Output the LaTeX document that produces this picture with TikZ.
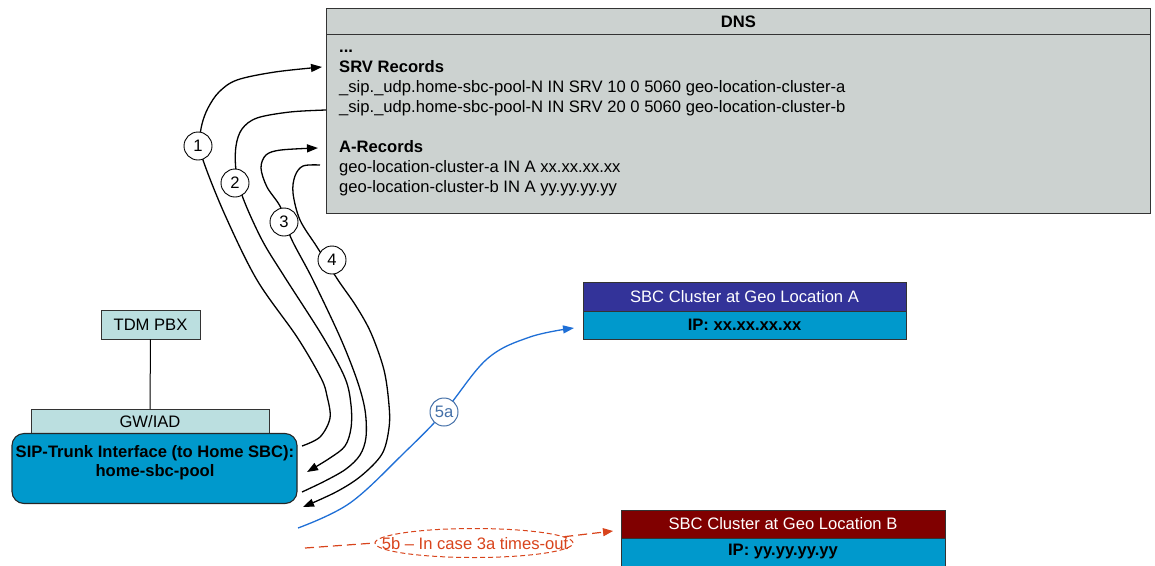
\documentclass[tikz,border=0pt]{standalone}
\usepackage{fontspec}
\setmainfont{Liberation Sans}
\usetikzlibrary{arrows.meta,shapes.geometric}

\definecolor{dnsgray}{HTML}{CCD2D0}
\definecolor{paleteal}{HTML}{BBDFE0}
\definecolor{sipblue}{HTML}{0099CC}
\definecolor{navyhead}{HTML}{333399}
\definecolor{maroonhead}{HTML}{800000}
\definecolor{linkblue}{HTML}{1F6FD6}
\definecolor{labelblue}{HTML}{4470A8}
\definecolor{fallback}{HTML}{D8441C}
\definecolor{edgegray}{HTML}{333333}

\newcommand\diagfont{\fontsize{16.6}{20}\selectfont}

\begin{document}
\begin{tikzpicture}[x=1pt,y=-1pt,font=\diagfont,
  box/.style={draw=edgegray,line width=0.9pt,inner sep=0pt},
  rec/.style={anchor=base west,inner sep=0pt},
  flow/.style={line width=1.3pt,-{Triangle[length=11pt,width=8pt]}},
  stepnum/.style={circle,draw,fill=white,line width=0.9pt,minimum size=28pt,inner sep=0pt},
  fallbackline/.style={fallback,line width=1.2pt,dash pattern=on 9pt off 5pt}]

\useasboundingbox (0,0) rectangle (1155,565);

% ---------- DNS server ----------
\node[box,fill=dnsgray,anchor=north west,minimum width=824pt,minimum height=205pt] (dns) at (326,8) {};
\node[box,fill=dnsgray,anchor=north west,minimum width=824pt,minimum height=26pt] (dnshead) at (326,8) {};
\node[font=\diagfont\bfseries] (dnstitle) at (dnshead.center) {DNS};

\node[rec,font=\diagfont\bfseries] (dots) at (339,52) {...};
\node[rec,font=\diagfont\bfseries] (srvtitle) at (339,72) {SRV Records};
\node[rec] (srva) at (339,92) {\_sip.\_udp.home-sbc-pool-N IN SRV 10 0 5060 geo-location-cluster-a};
\node[rec] (srvb) at (339,112) {\_sip.\_udp.home-sbc-pool-N IN SRV 20 0 5060 geo-location-cluster-b};
\node[rec,font=\diagfont\bfseries] (atitle) at (339,152) {A-Records};
\node[rec] (arecA) at (339,172) {geo-location-cluster-a IN A xx.xx.xx.xx};
\node[rec] (arecB) at (339,192) {geo-location-cluster-b IN A yy.yy.yy.yy};

% ---------- customer premises ----------
\node[box,fill=paleteal,minimum width=99pt,minimum height=29pt] (tdm) at (150.5,324.5) {TDM PBX};
\node[box,fill=paleteal,minimum width=238pt,minimum height=24pt] (gw) at (150,421.5) {GW/IAD};
\draw[line width=1pt] (tdm) -- (gw);
\node[box,fill=sipblue,rounded corners=12pt,line width=1.1pt,draw=black!85,minimum width=285pt,minimum height=70pt] (sip) at (154.5,468.5) {};
\node[font=\diagfont\bfseries,align=center,inner sep=0pt] (siptext) at (155,463) {SIP-Trunk Interface (to Home SBC):\\[-1pt]home-sbc-pool};

% ---------- SBC clusters ----------
\node[box,fill=navyhead,text=white,minimum width=323pt,minimum height=29pt] (sbcahead) at (744.5,296.5) {SBC Cluster at Geo Location A};
\node[box,fill=sipblue,font=\diagfont\bfseries,minimum width=323pt,minimum height=28pt] (sbcaip) at (744.5,325) {IP: xx.xx.xx.xx};
\node[box,fill=maroonhead,text=white,minimum width=324pt,minimum height=28pt] (sbcbhead) at (783,524) {SBC Cluster at Geo Location B};
\node[box,fill=sipblue,minimum width=324pt,minimum height=30pt,anchor=north] (sbcbip) at (sbcbhead.south) {};
\node[font=\diagfont\bfseries] (sbcbiptext) at (783,552) {IP: yy.yy.yy.yy};

% ---------- end points of the DNS lookups ----------
\coordinate (c1s) at (302,446);
\coordinate (c1e) at (322,67);
\coordinate (c2s) at (326,110);
\coordinate (c2e) at (307,472);
\coordinate (c3s) at (302,492);
\coordinate (c3e) at (318,148);
\coordinate (c4s) at (320,165);
\coordinate (c4e) at (303,507);

% 1: SRV query
\draw[flow] plot[smooth,tension=0.55] coordinates {(c1s) (320,437) (330,418) (327,396) (321,378) (297,337) (257,280) (225,215) (203,160) (200,140) (202,124) (208,108) (219,92) (237,80) (275,72) (c1e)};
% 2: SRV answer
\draw[flow] plot[smooth,tension=0.55] coordinates {(c2s) (290,112) (257,118) (242,129) (236,146) (236,170) (243,198) (262,240) (284,276) (323,337) (345,378) (351,405) (351,428) (345,446) (330,458) (c2e)};
% 3: A query
\draw[flow] plot[smooth,tension=0.55] coordinates {(c3s) (325,481) (346,469) (360,455) (366,437) (365,410) (357,380) (340,337) (312,278) (291,238) (281,208) (267,187) (261,168) (266,155) (281,150) (c3e)};
% 4: A answer
\draw[flow] plot[smooth,tension=0.55] coordinates {(c4s) (303,166) (295,176) (293,193) (300,220) (317,247) (338,280) (356,306) (371,333) (384,370) (389,405) (389,428) (382,454) (361,476) (336,492) (c4e)};

% 5a: call towards cluster A
\coordinate (b5s) at (298,528);
\coordinate (b5e) at (574,328);
\draw[linkblue,line width=1.3pt,-{Triangle[length=11pt,width=8pt]}] plot[smooth,tension=0.6] coordinates {(b5s) (350,503) (405,452) (444,412) (487,359) (530,337) (b5e)};

% 5b: fallback towards cluster B
\node[ellipse,draw=fallback,line width=1pt,dash pattern=on 5pt off 3pt,minimum width=198pt,minimum height=29pt,inner sep=0pt] (n5b) at (474,543) {};
\node[text=fallback,inner sep=0pt] (n5btext) at (475,544) {5b -- In case 3a times-out};
\coordinate (r5s) at (305,548);
\coordinate (r5e) at (613,531);
\draw[fallbackline] (r5s) -- (n5b.west);
\draw[fallbackline,-{Triangle[length=10pt,width=8pt]}] (n5b.4) -- (r5e);

% step numbers
\node[stepnum] (n1) at (198,146) {1};
\node[stepnum] (n2) at (235,183) {2};
\node[stepnum] (n3) at (284,222) {3};
\node[stepnum] (n4) at (332,260) {4};
\node[stepnum,draw=labelblue,text=labelblue,line width=1pt] (n5a) at (444,412) {5a};

\end{tikzpicture}
\end{document}
